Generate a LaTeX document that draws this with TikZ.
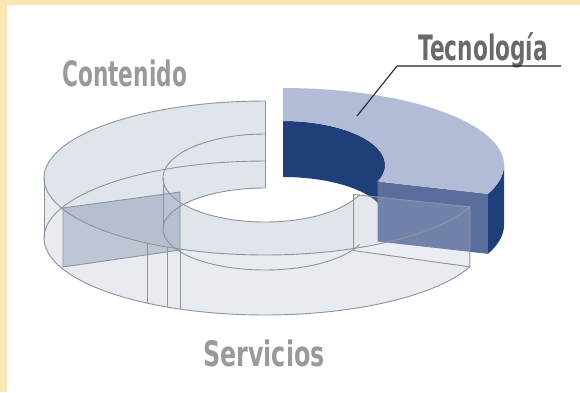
\documentclass[tikz,border=0pt]{standalone}
\usepackage{fontspec}
\newfontfamily\lblfont[FakeStretch=0.62]{DejaVu Sans}
\newfontfamily\lblfontS[FakeStretch=0.68]{DejaVu Sans}
\definecolor{cream}{HTML}{F9E8B4}
\definecolor{ringfill}{HTML}{C2CAD9}
\definecolor{wallfill}{HTML}{D2D8E3}
\definecolor{greyface}{HTML}{A9B5C5}
\definecolor{edgecol}{HTML}{8E939C}
\definecolor{navy}{HTML}{1F3F7B}
\definecolor{techtop}{HTML}{B2BCD6}
\definecolor{techcut}{HTML}{5A6D9C}
\definecolor{lblgrey}{HTML}{9A9A9A}
\definecolor{lbldark}{HTML}{6A6A6A}
\tikzset{
  edge/.style={draw=edgecol, line width=0.9pt},
  lbl/.style={inner sep=0pt, text=lblgrey, font=\lblfont\bfseries\fontsize{35}{35}\selectfont},
}
\begin{document}
\begin{tikzpicture}[x=1pt,y=-1pt,line join=round]
\def\cx{265}\def\cyt{178}\def\cyb{238}\def\cyib{229}\def\Rx{221}\def\Ry{77}\def\rx{102}\def\ry{44}\def\ryb{41}
\def\aS{-22}
% background
\fill[cream] (0,0) rectangle (580,392);
\fill[white] (7,5) rectangle (580,392);
\useasboundingbox (0,0) rectangle (580,392);
% grey cut face between Contenido and Servicios
\coordinate (g1) at (63,208);
\coordinate (g2) at (180,192);
\coordinate (g3) at (180,250);
\coordinate (g4) at (63,267);
\coordinate (g5) at (180,309);
\fill[greyface] (g1) -- (g2) -- (g3) -- (g4) -- cycle;
% top face of Contenido + Servicios
\fill[ringfill,fill opacity=0.5] plot[domain=90:338,samples=90] ({\cx+\Rx*cos(\x)},{\cyt-\Ry*sin(\x)})
  -- plot[domain=338:90,samples=90] ({\cx+\rx*cos(\x)},{\cyt-\ry*sin(\x)}) -- cycle;
% inner back wall of Contenido
\fill[ringfill,fill opacity=0.5] plot[domain=90:180,samples=40] ({\cx+\rx*cos(\x)},{\cyt-\ry*sin(\x)})
  -- plot[domain=180:90,samples=40] ({\cx+\rx*cos(\x)},{\cyib-\ryb*sin(\x)}) -- cycle;
% outer front wall
\fill[wallfill,fill opacity=0.5] plot[domain=180:338,samples=70] ({\cx+\Rx*cos(\x)},{\cyt-\Ry*sin(\x)})
  -- plot[domain=338:180,samples=70] ({\cx+\Rx*cos(\x)},{\cyb-\Ry*sin(\x)}) -- cycle;
% Tecnologia (exploded)
\begin{scope}[shift={(18,-13)}]
  \fill[navy] plot[domain=0:90,samples=40] ({\cx+\rx*cos(\x)},{\cyt-\ry*sin(\x)})
    -- plot[domain=90:0,samples=40] ({\cx+\rx*cos(\x)},{\cyib+2-\ryb*sin(\x)}) -- cycle;
  \fill[navy] plot[domain=\aS:0,samples=20] ({\cx+\Rx*cos(\x)},{\cyt-\Ry*sin(\x)})
    -- plot[domain=0:\aS,samples=20] ({\cx+\Rx*cos(\x)},{\cyb-\Ry*sin(\x)}) -- cycle;
  \fill[techcut] ({\cx+\rx*cos(\aS)},{\cyt-\ry*sin(\aS)}) -- ({\cx+\Rx*cos(\aS)},{\cyt-\Ry*sin(\aS)})
    -- ({\cx+\Rx*cos(\aS)},{\cyb-\Ry*sin(\aS)}) -- ({\cx+\rx*cos(\aS)},{\cyb-\ry*sin(\aS)}) -- cycle;
  \fill[techtop] plot[domain=\aS:90,samples=60] ({\cx+\Rx*cos(\x)},{\cyt-\Ry*sin(\x)})
    -- plot[domain=90:\aS,samples=60] ({\cx+\rx*cos(\x)},{\cyt-\ry*sin(\x)}) -- cycle;
\end{scope}
% Servicios cut face at the right (translucent)
\coordinate (s1) at ({\cx+\rx*cos(\aS)-6},{\cyt-\ry*sin(\aS)});
\coordinate (s2) at ({\cx+\Rx*cos(\aS)},{\cyt-\Ry*sin(\aS)});
\coordinate (s3) at ({\cx+\Rx*cos(\aS)},{\cyb-\Ry*sin(\aS)});
\coordinate (s4) at ({\cx+\rx*cos(\aS)-6},{\cyb-\ry*sin(\aS)-4});
\fill[white,fill opacity=0.15] (s1) -- (s2) -- (s3) -- (s4) -- cycle;
% edges of the translucent pieces
\draw[edge] plot[domain=90:338,samples=90] ({\cx+\Rx*cos(\x)},{\cyt-\Ry*sin(\x)});
\draw[edge] plot[domain=90:338,samples=90] ({\cx+\rx*cos(\x)},{\cyt-\ry*sin(\x)});
\draw[edge] plot[domain=90:338,samples=90] ({\cx+\Rx*cos(\x)},{\cyb-\Ry*sin(\x)});
\draw[edge] plot[domain=90:338,samples=90] ({\cx+\rx*cos(\x)},{\cyib-\ryb*sin(\x)});
\draw[edge] (\cx,\cyt-\Ry) -- (\cx,\cyib-\ryb);
\draw[edge] (\cx-\Rx,\cyt) -- (\cx-\Rx,\cyb);
\draw[edge] (\cx-\rx,\cyt) -- (\cx-\rx,\cyib);
\draw[edge] (g1) -- (g2) -- (g3) -- (g4) -- cycle;
\draw[edge] (g3) -- (g5);
\draw[edge] (s1) -- (s2) -- (s3) -- (s4) -- cycle;
% vertical edges on the front outer wall
\foreach \a in {238,243.7}{
  \draw[edge] ({\cx+\Rx*cos(\a)},{\cyt-\Ry*sin(\a)}) -- ({\cx+\Rx*cos(\a)},{\cyb-\Ry*sin(\a)});
}
% labels
\node[lbl,anchor=base west] (cont) at (62,86) {Contenido};
\node[lbl,anchor=base west,text=lbldark] (tec) at (418,60) {Tecnología};
\node[lbl,anchor=base west,font=\lblfontS\bfseries\fontsize{35}{35}\selectfont] (serv) at (203,366) {Servicios};
\coordinate (u1) at (397,66);
\coordinate (u2) at (561,66);
\coordinate (tip) at (357,116);
\draw[black!85,line width=1.1pt] (u2) -- (u1) -- (tip);
\end{tikzpicture}
\end{document}
